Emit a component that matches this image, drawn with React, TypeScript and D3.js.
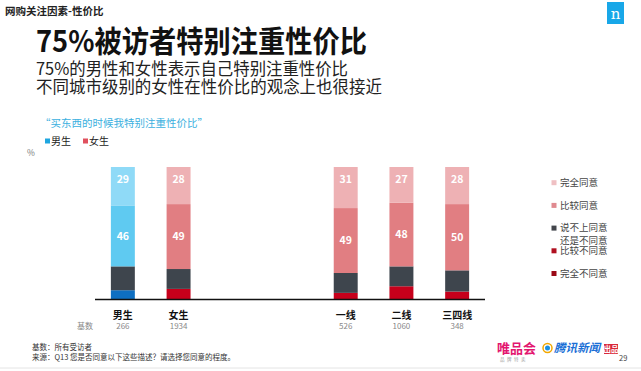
import React from "react";
import * as d3 from "d3";

const categories = ["男生", "女生", "一线", "二线", "三四线"];
const bases = ["266", "1934", "526", "1060", "348"];
const completelyAgree = [29, 28, 31, 27, 28];
const somewhatAgree = [46, 49, 49, 48, 50];
const neutral = [18, 15, 15, 15, 16];
const disagree = [7, 8, 5, 10, 6];
const legendLabels = ["完全同意", "比较同意", "说不上同意", "比较不同意", "完全不同意"];
const topLegend = ["男生", "女生"];

const W = 641;
const H = 371;
const FONT = "'Noto Sans CJK SC', 'Noto Sans', sans-serif";

const slotDomain = ["男生", "女生", "_g1", "_g2", "一线", "二线", "三四线"];

const maleColors = ["#8fdaf7", "#5fcaf1", "#3e454d", "#0e6fc2"];
const femaleColors = ["#eeb1b4", "#e17e82", "#3e454d", "#c6001b"];
const legendColors = ["#efc0c3", "#e08a90", "#43464c", "#b01020", "#9a0a16"];

export default function App() {
  const x = d3
    .scaleBand<string>()
    .domain(slotDomain)
    .range([95, 485])
    .paddingInner(0.57)
    .paddingOuter(0.285);
  const y = d3.scaleLinear().domain([0, 100]).range([299.5, 167]);

  const rows = categories.map((c, i) => ({
    cat: c,
    base: bases[i],
    vals: [completelyAgree[i], somewhatAgree[i], neutral[i], disagree[i]],
  }));

  const stackKeys = [3, 2, 1, 0];
  const bw = x.bandwidth();

  return (
    <svg
      width={W}
      height={H}
      style={{ position: "absolute", left: 0, top: 0, background: "#fff" }}
      fontFamily={FONT}
    >
      <rect x={0} y={0} width={W} height={H} fill="#fff" />
      {/* header */}
      <text x={5} y={15} fontSize={10.5} fontWeight={700} fill="#222">
        网购关注因素-性价比
      </text>
      <rect x={607} y={2} width={17} height={22} fill="#18a7e8" />
      <text x={615.5} y={19} fontSize={15} fill="#fff" textAnchor="middle" fontFamily="'DejaVu Serif', serif">
        n
      </text>
      <text x={36} y={52} fontSize={30} fontWeight={700} fill="#111" textLength={331} lengthAdjust="spacingAndGlyphs">
        75%被访者特别注重性价比
      </text>
      <text x={36} y={75} fontSize={17} fill="#222" textLength={312} lengthAdjust="spacingAndGlyphs">
        75%的男性和女性表示自己特别注重性价比
      </text>
      <text x={36} y={93} fontSize={17} fill="#222" textLength={346} lengthAdjust="spacingAndGlyphs">
        不同城市级别的女性在性价比的观念上也很接近
      </text>
      <text x={40} y={127} fontSize={10.5} fill="#3ab0e0">
        “买东西的时候我特别注重性价比”
      </text>
      {/* top legend */}
      {topLegend.map((t, i) => (
        <g key={t} transform={`translate(${45 + i * 38},0)`}>
          <rect x={0} y={138.5} width={5} height={5} fill={i === 0 ? "#1ea6e0" : "#e0505e"} />
          <text x={6} y={145} fontSize={10} fill="#222">
            {t}
          </text>
        </g>
      ))}
      <text x={27} y={156} fontSize={8.5} fill="#777">
        %
      </text>

      {/* bars */}
      {rows.map((r, ci) => {
        const colors = ci === 0 ? maleColors : femaleColors;
        let cum = 0;
        const segs = stackKeys.map((k) => {
          const y0 = cum;
          cum += r.vals[k];
          return { k, y0, y1: cum };
        });
        const x0 = x(r.cat) as number;
        return (
          <g key={r.cat}>
            {segs.map((s) => (
              <rect
                key={s.k}
                x={x0}
                y={y(s.y1)}
                width={bw}
                height={y(s.y0) - y(s.y1)}
                fill={colors[s.k]}
              />
            ))}
            {segs
              .filter((s) => s.k === 0 || s.k === 1)
              .map((s) => (
                <text
                  key={"l" + s.k}
                  x={x0 + bw / 2}
                  y={s.k === 0 ? y(s.y1) + 12.5 : (y(s.y0) + y(s.y1)) / 2}
                  dy="0.35em"
                  textAnchor="middle"
                  fontSize={10.5}
                  fontWeight={700}
                  fill="#fff"
                >
                  {r.vals[s.k]}
                </text>
              ))}
            <text x={x0 + bw / 2} y={318.5} textAnchor="middle" fontSize={10} fontWeight={700} fill="#111">
              {r.cat}
            </text>
            <text x={x0 + bw / 2} y={329} textAnchor="middle" fontSize={8} fill="#888">
              {r.base}
            </text>
          </g>
        );
      })}
      <line x1={x.range()[0]} x2={x.range()[1]} y1={y(0)} y2={y(0)} stroke="#111" strokeWidth={1.5} />
      <text x={77} y={329} fontSize={8} fill="#888">
        基数
      </text>

      {/* right legend */}
      {legendLabels.map((t, i) => {
        const cy = 182.7 + i * 22.7;
        return (
          <g key={t}>
            <rect x={551.5} y={cy - 2.5} width={5} height={5} fill={legendColors[i]} />
            <text x={560} y={cy} dy="0.35em" fontSize={9.5} fill="#444">
              {t}
            </text>
            {i === 2 && (
              <text x={560} y={cy + 12.5} dy="0.35em" fontSize={9.5} fill="#444">
                还是不同意
              </text>
            )}
          </g>
        );
      })}

      {/* footer */}
      <text x={32} y={350} fontSize={7.5} fill="#333">
        基数：所有受访者
      </text>
      <text x={32} y={360} fontSize={7.5} fill="#333">
        来源：Q13 您是否同意以下这些描述？请选择您同意的程度。
      </text>
      <text x={497} y={353} fontSize={13} fontWeight={700} fill="#e3176f">
        唯品会
      </text>
      <text x={500} y={361} fontSize={4.5} fill="#999" letterSpacing={2.5}>
        品牌特卖
      </text>
      <circle cx={547.5} cy={348} r={4.5} fill="none" stroke="#f2a700" strokeWidth={1.5} />
      <circle cx={547.5} cy={348} r={2.5} fill="#1a8fe0" />
      <text x={554} y={352} fontSize={11.5} fontWeight={700} fontStyle="italic" fill="#1a6fd6">
        腾讯新闻
      </text>
      <rect x={604} y={344} width={14} height={10} fill="#d9283a" />
      <text x={611} y={352} fontSize={7.5} fontWeight={700} fill="#fff" textAnchor="middle">
        出品
      </text>
      <text x={619} y={361} fontSize={7.5} fill="#444">
        29
      </text>
      <line x1={0} x2={W} y1={368} y2={368} stroke="#e4e4e4" strokeWidth={1} />
    </svg>
  );
}
